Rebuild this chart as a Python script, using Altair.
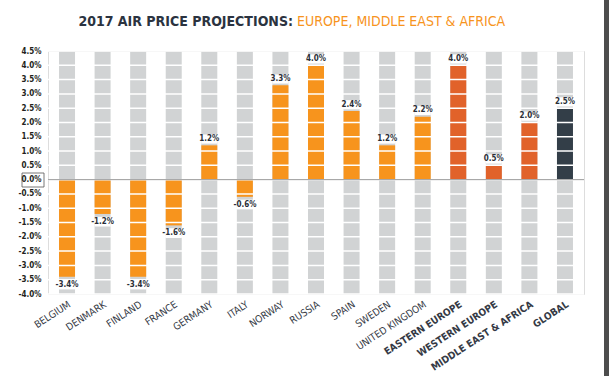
import altair as alt
import pandas as pd

categories = ["BELGIUM", "DENMARK", "FINLAND", "FRANCE", "GERMANY", "ITALY", "NORWAY",
              "RUSSIA", "SPAIN", "SWEDEN", "UNITED KINGDOM", "EASTERN EUROPE",
              "WESTERN EUROPE", "MIDDLE EAST & AFRICA", "GLOBAL"]
values = [-3.4, -1.2, -3.4, -1.6, 1.2, -0.6, 3.3, 4.0, 2.4, 1.2, 2.2, 4.0, 0.5, 2.0, 2.5]
groups = ["country"] * 11 + ["region"] * 3 + ["global"]
y_ticks = [-4.0, -3.5, -3.0, -2.5, -2.0, -1.5, -1.0, -0.5, 0.0, 0.5, 1.0, 1.5, 2.0, 2.5, 3.0, 3.5, 4.0, 4.5]

df = pd.DataFrame({"category": categories, "value": values, "group": groups})

FONT = "DejaVu Sans Condensed, Roboto, sans-serif"
bold_list = "['EASTERN EUROPE','WESTERN EUROPE','MIDDLE EAST & AFRICA','GLOBAL']"

x = alt.X("category:N", sort=categories,
          scale=alt.Scale(paddingInner=0.55, paddingOuter=0.31),
          axis=alt.Axis(title=None, labelAngle=327, labelAlign="right", labelBaseline="top",
                        domain=False, ticks=False, labelPadding=5, labelFont=FONT,
                        labelFontSize=10, labelColor="#353a45", labelOverlap=False,
                        labelFontWeight=alt.ExprRef(f"indexof({bold_list}, datum.value) >= 0 ? 'bold' : 'normal'")))
yscale = alt.Scale(domain=[-4, 4.5], nice=False, zero=False)
yaxis = alt.Axis(title=None, values=y_ticks, domain=False, ticks=False, grid=False,
                 labelExpr="replace(format(datum.value, '.1f'), '\u2212', '-') + '%'",
                 labelOverlap=False, labelFont=FONT, labelFontSize=8, labelFontWeight="bold",
                 labelColor="#231f20", labelPadding=7, zindex=1)

base = alt.Chart(df)

columns = base.mark_bar(color="#d1d3d4").transform_calculate(lo="-4", hi="4.5").encode(
    x=x, y=alt.Y("lo:Q", scale=yscale, axis=yaxis), y2="hi:Q")

bars = base.mark_bar().transform_calculate(zero="0").encode(
    x=x,
    y=alt.Y("zero:Q", scale=yscale, axis=yaxis),
    y2="value:Q",
    color=alt.Color("group:N", legend=None,
                    scale=alt.Scale(domain=["country", "region", "global"],
                                    range=["#f7941d", "#e1622a", "#333e48"])),
)

grid = alt.Chart(pd.DataFrame({"t": y_ticks})).mark_rule(color="white", strokeWidth=1.5).encode(
    y=alt.Y("t:Q", scale=yscale, axis=yaxis))

zero_rule = alt.Chart(pd.DataFrame({"z": [0.0]})).mark_rule(color="#9a9a9a", strokeWidth=1).encode(
    y=alt.Y("z:Q", scale=yscale, axis=yaxis))

label_bg = base.mark_bar(color="white").transform_calculate(
    b0="datum.value >= 0 ? datum.value + 0.06 : datum.value - 0.1",
    b1="datum.value >= 0 ? datum.value + 0.38 : datum.value - 0.44",
).encode(x=x, y=alt.Y("b0:Q", scale=yscale, axis=yaxis), y2="b1:Q")

labels = base.mark_text(font=FONT, fontSize=8, fontWeight="bold", color="#2b2f38").transform_calculate(
    lbl="replace(format(datum.value, '.1f'), '\u2212', '-') + '%'",
    pos="datum.value >= 0 ? datum.value + 0.22 : datum.value - 0.27",
).encode(x=x, y=alt.Y("pos:Q", scale=yscale, axis=yaxis), text="lbl:N")

zero_box = alt.Chart(pd.DataFrame({"z": [0.0]})).mark_rect(
    fill="white", stroke="#555555", strokeWidth=0.8).encode(
    x=alt.value(-26), x2=alt.value(-4), y=alt.value(122), y2=alt.value(136))

title_a = alt.Chart(pd.DataFrame({"t": ["2017 AIR PRICE PROJECTIONS:"]})).mark_text(
    font=FONT, fontSize=14, fontWeight="bold", color="#2b3340", align="right", baseline="middle").encode(
    x=alt.value(245), y=alt.value(-29), text="t:N")
title_b = alt.Chart(pd.DataFrame({"t": ["EUROPE, MIDDLE EAST & AFRICA"]})).mark_text(
    font=FONT, fontSize=14, color="#f7941d", align="left", baseline="middle").encode(
    x=alt.value(249), y=alt.value(-29), text="t:N")

border = alt.Chart(pd.DataFrame({"z": [0]})).mark_rule(color="#4d4d4d", strokeWidth=5).encode(
    x=alt.value(558.5), y=alt.value(-51), y2=alt.value(325))

chart = alt.layer(columns, bars, grid, zero_rule, label_bg, labels, zero_box,
                  title_a, title_b, border).properties(
    width=536, height=243,
    autosize=alt.AutoSizeParams(type="none"),
    padding={"left": 48, "top": 51, "right": 26, "bottom": 82},
).configure_view(stroke="transparent", strokeWidth=0).configure(background="white")

chart.save("out.html", embed_options={"renderer": "svg", "actions": False})
